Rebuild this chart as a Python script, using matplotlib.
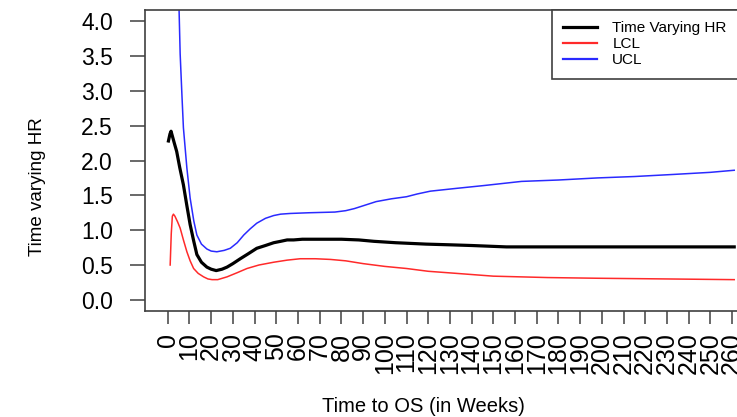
import numpy as np
import matplotlib
matplotlib.use("Agg")
import matplotlib.pyplot as plt
from matplotlib.lines import Line2D

# ---- data ----
hr_weeks = [0.3, 1.0, 1.5, 3.0, 4.1, 5.5, 7.2, 8.8, 10.3, 11.9, 13.4, 15.5, 18.0,
            20.0, 22.3, 25.0, 27.3, 30.0, 33.4, 37.0, 41.0, 45.0, 48.8, 52.0,
            55.0, 58.0, 62.0, 70.0, 80.0, 88.0, 95.0, 105.0, 119.0, 130.0,
            140.0, 156.0, 200.0, 261.0]
hr_values = [2.28, 2.38, 2.42, 2.25, 2.13, 1.90, 1.65, 1.35, 1.08, 0.85, 0.65, 0.54,
             0.47, 0.44, 0.42, 0.44, 0.47, 0.52, 0.59, 0.66, 0.74, 0.78, 0.82, 0.84,
             0.86, 0.86, 0.87, 0.87, 0.87, 0.86, 0.84, 0.82, 0.80, 0.79,
             0.78, 0.76, 0.76, 0.76]

lcl_weeks = [1.1, 1.6, 2.1, 2.6, 3.3, 4.5, 5.7, 7.2, 8.8, 10.3, 11.9, 14.0, 16.5,
             18.5, 20.4, 23.0, 27.3, 32.0, 36.5, 42.0, 48.8, 55.0, 61.0, 68.0,
             75.0, 82.0, 90.0, 100.0, 110.0, 120.0, 133.0, 150.0, 175.0, 198.0,
             230.0, 261.0]
lcl_values = [0.50, 0.95, 1.20, 1.23, 1.20, 1.12, 1.03, 0.86, 0.69, 0.56, 0.45, 0.38,
              0.33, 0.30, 0.29, 0.29, 0.33, 0.39, 0.45, 0.50, 0.54, 0.57, 0.59, 0.59,
              0.58, 0.56, 0.52, 0.48, 0.45, 0.41, 0.38, 0.34, 0.32, 0.31,
              0.30, 0.29]

ucl_weeks = [1.0, 3.0, 4.5, 5.2, 5.7, 6.5, 7.2, 8.8, 10.3, 12.0, 13.4, 15.5, 18.0,
             20.0, 22.6, 26.0, 28.8, 32.0, 35.0, 38.0, 41.0, 45.0, 48.8, 52.0,
             56.5, 65.0, 77.0, 82.0, 86.0, 91.0, 96.0, 103.0, 110.0, 115.0, 121.0,
             133.0, 145.5, 163.0, 180.0, 198.0, 215.0, 233.0, 250.0, 261.0]
ucl_values = [20.0, 7.0, 4.7, 4.16, 3.53, 2.95, 2.47, 1.89, 1.46, 1.13, 0.93, 0.80,
              0.73, 0.70, 0.69, 0.71, 0.74, 0.82, 0.93, 1.02, 1.10, 1.17, 1.21, 1.23,
              1.24, 1.25, 1.26, 1.28, 1.31, 1.36, 1.41, 1.45, 1.48, 1.52, 1.56,
              1.60, 1.64, 1.70, 1.72, 1.75, 1.77, 1.80, 1.83, 1.86]

x_ticks = list(range(0, 270, 10))
x_tick_labels = [str(v) for v in x_ticks]
y_ticks = [0.0, 0.5, 1.0, 1.5, 2.0, 2.5, 3.0, 3.5, 4.0]
y_tick_labels = ["%.1f" % v for v in y_ticks]
legend_labels = ["Time Varying HR", "LCL", "UCL"]

# ---- figure ----
plt.rcParams["font.family"] = ["Liberation Sans", "DejaVu Sans"]
W, H = 737, 417
fig = plt.figure(figsize=(W / 100, H / 100), dpi=100)
fig.patch.set_facecolor("white")

L, R, T, B = 145, 757, 10, 311
ax = fig.add_axes([L / W, 1 - B / H, (R - L) / W, (B - T) / H])
ax.set_xlim(-10.5, 271.5)
ax.set_ylim(-0.16, 4.16)

ax.plot(hr_weeks, hr_values, color="black", lw=2.3, solid_joinstyle="round")
ax.plot(lcl_weeks, lcl_values, color="#ff2a2a", lw=1.1, solid_joinstyle="round")
ax.plot(ucl_weeks, ucl_values, color="#2a2aff", lw=1.1, solid_joinstyle="round")

for s in ax.spines.values():
    s.set_color("#404040")
    s.set_linewidth(1.2)

ax.set_xticks(x_ticks)
ax.set_xticklabels(x_tick_labels, rotation=90, fontsize=18)
ax.set_yticks(y_ticks)
ax.set_yticklabels(y_tick_labels, fontsize=16.5)
ax.tick_params(axis="x", length=9.5, width=1.1, color="#404040", pad=6)
ax.tick_params(axis="y", length=11, width=1.1, color="#404040", pad=12)

fig.text(423 / W, 1 - 407 / H, "Time to OS (in Weeks)", ha="center", va="center",
         fontsize=14.5)
fig.text(38 / W, 1 - 187 / H, "Time varying HR", ha="center", va="center",
         rotation=90, fontsize=13.5)

handles = [Line2D([], [], color="black", lw=2.3),
           Line2D([], [], color="#ff2a2a", lw=1.6),
           Line2D([], [], color="#2a2aff", lw=1.6)]
leg_left = (552 - L) / (R - L)
leg_bottom = (B - 76) / (B - T)
leg = ax.legend(handles, legend_labels, loc="upper left", mode="expand",
                bbox_to_anchor=(leg_left, leg_bottom, 1 - leg_left, 1 - leg_bottom),
                borderaxespad=0, fancybox=False, framealpha=1, edgecolor="#404040",
                fontsize=11, handlelength=2.2, handletextpad=1.0, labelspacing=0.12,
                borderpad=0.75)
leg.get_frame().set_linewidth(1.2)

fig.savefig("out.png", dpi=100, facecolor="white")
